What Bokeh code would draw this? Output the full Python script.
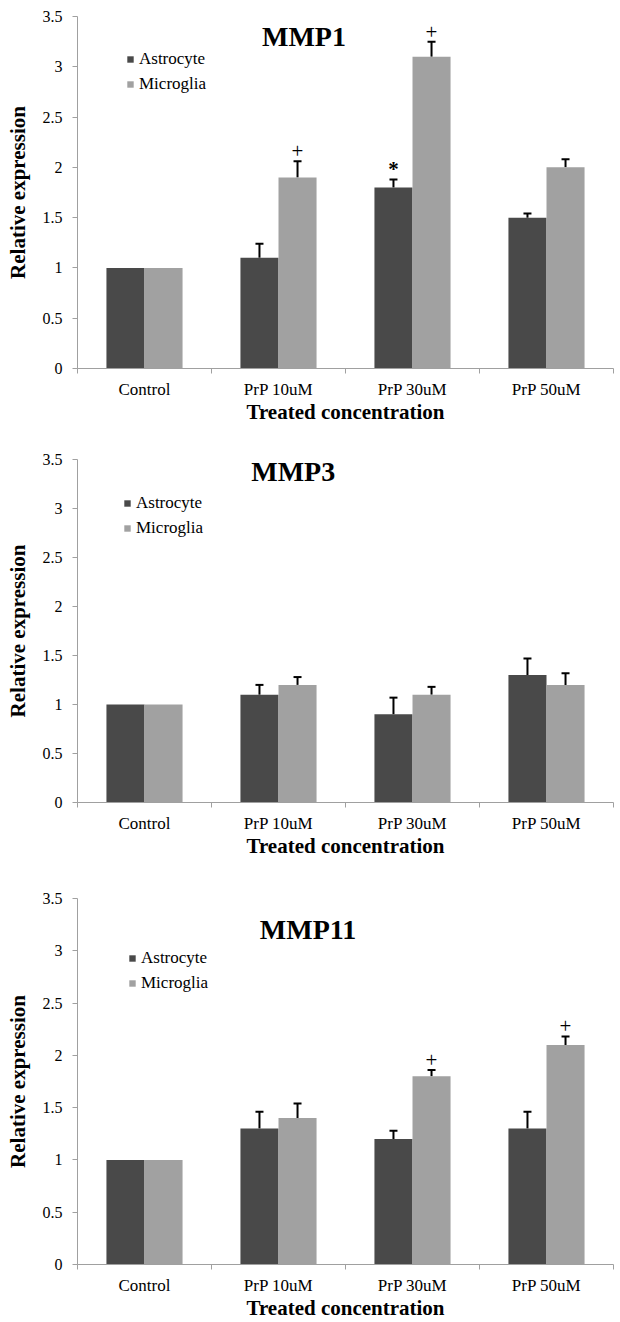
from bokeh.plotting import figure
from bokeh.models import (Range1d, FixedTicker, ColumnDataSource, Whisker, TeeHead,
                          Label, CustomJSTickFormatter, NumeralTickFormatter)
from bokeh.layouts import column
from bokeh.embed import file_html
from bokeh.resources import INLINE
from bokeh.core.properties import value

# ---------------- data ----------------
categories = ["Control", "PrP 10uM", "PrP 30uM", "PrP 50uM"]
series_names = ["Astrocyte", "Microglia"]

mmp1_astro = [1.0, 1.1, 1.8, 1.5]
mmp1_astro_err = [0.0, 0.14, 0.08, 0.04]
mmp1_micro = [1.0, 1.9, 3.1, 2.0]
mmp1_micro_err = [0.0, 0.16, 0.15, 0.08]
mmp1_astro_sig = ["", "", "*", ""]
mmp1_micro_sig = ["", "+", "+", ""]

mmp3_astro = [1.0, 1.1, 0.9, 1.3]
mmp3_astro_err = [0.0, 0.10, 0.17, 0.17]
mmp3_micro = [1.0, 1.2, 1.1, 1.2]
mmp3_micro_err = [0.0, 0.08, 0.08, 0.12]
mmp3_astro_sig = ["", "", "", ""]
mmp3_micro_sig = ["", "", "", ""]

mmp11_astro = [1.0, 1.3, 1.2, 1.3]
mmp11_astro_err = [0.0, 0.16, 0.08, 0.16]
mmp11_micro = [1.0, 1.4, 1.8, 2.1]
mmp11_micro_err = [0.0, 0.14, 0.06, 0.08]
mmp11_astro_sig = ["", "", "", ""]
mmp11_micro_sig = ["", "", "+", "+"]

y_ticks = [0, 0.5, 1, 1.5, 2, 2.5, 3, 3.5]

# ---------------- style ----------------
SERIF = "Liberation Serif"
DARK = "#494949"
LIGHT = "#a1a1a1"
AXIS = "#a0a0a0"
BAR_W = 0.284


def make_panel(title, astro, astro_err, micro, micro_err, astro_sig, micro_sig,
               height, b_top, b_bottom, title_pos, legend_pos):
    p = figure(width=620, height=height, output_backend="svg", toolbar_location=None,
               x_range=Range1d(0, len(categories)), y_range=Range1d(0, 3.5),
               min_border_left=77, min_border_right=7,
               min_border_top=b_top, min_border_bottom=b_bottom)
    p.outline_line_color = None
    p.xgrid.visible = False
    p.ygrid.visible = False

    centers = [i + 0.5 for i in range(len(categories))]

    for vals, errs, sigs, off, col, name in [
        (astro, astro_err, astro_sig, -BAR_W / 2, DARK, series_names[0]),
        (micro, micro_err, micro_sig, BAR_W / 2, LIGHT, series_names[1]),
    ]:
        xs = [c + off for c in centers]
        src = ColumnDataSource(dict(x=xs, top=vals))
        p.vbar(x="x", top="top", width=BAR_W, source=src, fill_color=col,
               line_color=None, legend_label=name)
        # error bars (upper half only)
        ex = [x for x, e in zip(xs, errs) if e > 0]
        ev = [v for v, e in zip(vals, errs) if e > 0]
        eu = [v + e for v, e in zip(vals, errs) if e > 0]
        if ex:
            esrc = ColumnDataSource(dict(base=ex, lower=ev, upper=eu))
            p.add_layout(Whisker(base="base", lower="lower", upper="upper", source=esrc,
                                 dimension="height", line_color="black", line_width=2,
                                 upper_head=TeeHead(size=8, line_color="black", line_width=2),
                                 lower_head=None))
        # significance markers
        sx = [x for x, s in zip(xs, sigs) if s]
        sy = [v + e + 0.1 for v, e, s in zip(vals, errs, sigs) if s]
        st = [s for s in sigs if s]
        if sx:
            fs = ["bold" if s == "*" else "normal" for s in st]
            ssrc = ColumnDataSource(dict(x=sx, y=sy, t=st, fs=fs))
            p.text(x="x", y="y", text="t", source=ssrc, text_align="center",
                   text_baseline="middle", text_font=value(SERIF),
                   text_font_size="21px", text_font_style="fs", text_color="black")

    # title inside plot area
    p.add_layout(Label(x=title_pos[0], y=title_pos[1], text=title, text_font=SERIF,
                       text_font_size="28px", text_font_style="bold", text_color="black",
                       text_align="center", text_baseline="middle"))

    # legend
    leg = p.legend[0]
    leg.location = legend_pos
    leg.glyph_width = 8
    leg.glyph_height = 8
    leg.label_height = 20
    leg.spacing = 5
    leg.padding = 0
    leg.margin = 0
    leg.label_standoff = 5
    leg.border_line_color = None
    leg.background_fill_alpha = 0
    leg.label_text_font = SERIF
    leg.label_text_font_size = "17px"
    leg.label_text_color = "black"

    # x axis: labels at category centres, tick marks at category borders
    xa = p.xaxis[0]
    xa.ticker = FixedTicker(ticks=centers,
                            minor_ticks=[float(i) for i in range(len(categories) + 1)])
    xa.formatter = CustomJSTickFormatter(args=dict(cats=categories),
                                         code="return cats[Math.floor(tick)] || '';")
    xa.major_tick_line_color = None
    xa.minor_tick_in = 0
    xa.minor_tick_out = 5
    xa.minor_tick_line_color = AXIS
    xa.axis_line_color = AXIS
    xa.axis_line_width = 1
    xa.major_label_standoff = 5
    xa.major_label_text_font = SERIF
    xa.major_label_text_font_size = "17px"
    xa.major_label_text_color = "black"
    xa.axis_label = "Treated concentration"
    xa.axis_label_text_font = SERIF
    xa.axis_label_text_font_size = "21px"
    xa.axis_label_text_font_style = "bold"
    xa.axis_label_text_color = "black"
    xa.axis_label_standoff = -2

    # y axis
    ya = p.yaxis[0]
    ya.ticker = FixedTicker(ticks=y_ticks, minor_ticks=[])
    ya.formatter = NumeralTickFormatter(format="0.[0]")
    ya.major_tick_in = 0
    ya.major_tick_out = 5
    ya.major_tick_line_color = AXIS
    ya.minor_tick_line_color = None
    ya.axis_line_color = AXIS
    ya.axis_line_width = 1
    ya.major_label_standoff = 10
    ya.major_label_text_font = SERIF
    ya.major_label_text_font_size = "16px"
    ya.major_label_text_color = "black"
    ya.axis_label = "Relative expression"
    ya.axis_label_text_font = SERIF
    ya.axis_label_text_font_size = "21px"
    ya.axis_label_text_font_style = "bold"
    ya.axis_label_text_color = "black"
    ya.axis_label_standoff = 10
    return p


p1 = make_panel("MMP1", mmp1_astro, mmp1_astro_err, mmp1_micro, mmp1_micro_err,
                mmp1_astro_sig, mmp1_micro_sig,
                height=440, b_top=16, b_bottom=72,
                title_pos=(1.69, 3.30), legend_pos=(49, 274))
p2 = make_panel("MMP3", mmp3_astro, mmp3_astro_err, mmp3_micro, mmp3_micro_err,
                mmp3_astro_sig, mmp3_micro_sig,
                height=432, b_top=19, b_bottom=70,
                title_pos=(1.61, 3.38), legend_pos=(46, 264))
p3 = make_panel("MMP11", mmp11_astro, mmp11_astro_err, mmp11_micro, mmp11_micro_err,
                mmp11_astro_sig, mmp11_micro_sig,
                height=450, b_top=26, b_bottom=57,
                title_pos=(1.72, 3.20), legend_pos=(51, 271))

layout = column(p1, p2, p3)
open("out.html", "w").write(file_html(layout, INLINE))
